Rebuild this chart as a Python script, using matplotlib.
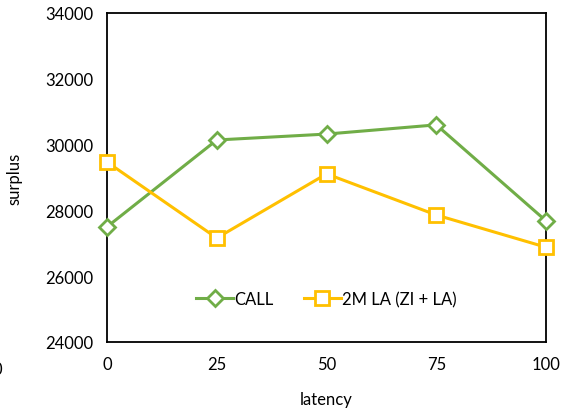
import matplotlib.pyplot as plt

# latency vs surplus for the two market designs
latency = [0, 25, 50, 75, 100]
call_surplus = [27500, 30140, 30320, 30600, 27680]
la_surplus = [29470, 27160, 29110, 27860, 26880]
yticks = [24000, 26000, 28000, 30000, 32000, 34000]

plt.rcParams['font.family'] = ['Lato', 'DejaVu Sans']

fig = plt.figure(figsize=(5.71, 4.14), dpi=100)
ax = fig.add_axes([0.1874, 0.1715, 0.769, 0.7947])

ax.plot(latency, call_surplus, color='#70AD47', lw=2.2, marker='D', ms=8,
        mfc='white', mec='#70AD47', mew=2, label='CALL', clip_on=False, zorder=3)
ax.plot(latency, la_surplus, color='#FFC000', lw=2.2, marker='s', ms=10,
        mfc='white', mec='#FFC000', mew=2, label='2M LA (ZI + LA)', clip_on=False, zorder=3)

ax.set_xlim(0, 100)
ax.set_ylim(24000, 34000)
ax.set_xticks(latency)
ax.set_yticks(yticks)
ax.tick_params(length=0, labelsize=12, pad=10)
for s in ax.spines.values():
    s.set_linewidth(1.3)
    s.set_color('black')
    s.set_zorder(2)

ax.set_xlabel('latency', fontsize=12, labelpad=14)
ax.set_ylabel('surplus', fontsize=12, labelpad=16)
ax.legend(loc='lower center', bbox_to_anchor=(0.5, 0.06), ncol=2, frameon=False,
          fontsize=12, handlelength=2.2, handletextpad=0.1, columnspacing=1.8)

# partially visible tick label at the left edge
fig.text(-0.004, 1 - 370 / 414, '0', fontsize=12, ha='center', va='center')

fig.savefig('out.png', dpi=100)
